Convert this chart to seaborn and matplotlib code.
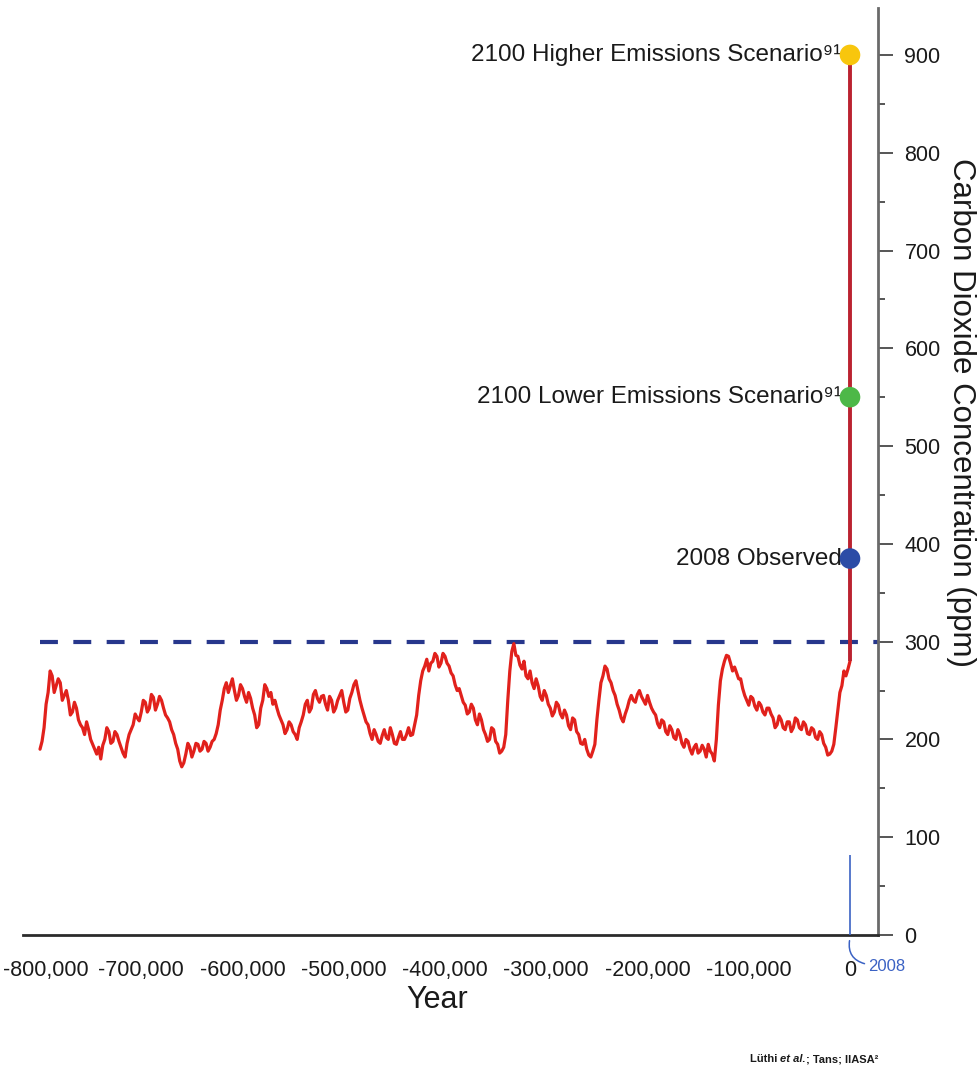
import numpy as np
import pandas as pd
import matplotlib
matplotlib.use("Agg")
import matplotlib.pyplot as plt
import matplotlib.transforms as mtransforms
import seaborn as sns
from matplotlib.ticker import MultipleLocator, FixedLocator, FuncFormatter

# Ice-core CO2 record, one reading every 2,000 years (ppm), 800 kyr ago -> today
years = np.arange(-800000, 1, 2000)
co2_ppm = [
    190, 198, 212, 236, 248, 270, 265, 248, 255, 262, 258, 240, 245, 250, 240, 225, 228, 238, 232, 220,
    215, 212, 205, 218, 210, 200, 195, 190, 185, 192, 180, 194, 200, 212, 208, 196, 198, 208, 205, 198,
    192, 186, 182, 196, 205, 210, 215, 226, 222, 219, 228, 240, 238, 228, 232, 246, 243, 230, 236, 244,
    240, 232, 225, 222, 218, 210, 205, 196, 190, 178, 172, 176, 185, 196, 192, 182, 188, 196, 195, 188,
    190, 198, 196, 188, 192, 198, 200, 206, 215, 230, 240, 252, 258, 248, 255, 262, 250, 240, 245, 256,
    252, 244, 238, 248, 242, 232, 225, 212, 215, 232, 240, 256, 252, 244, 248, 236, 240, 232, 225, 220,
    215, 206, 210, 218, 215, 208, 205, 200, 212, 218, 225, 236, 240, 228, 232, 246, 250, 242, 238, 244,
    245, 236, 230, 244, 240, 228, 232, 240, 245, 250, 238, 228, 230, 242, 248, 256, 260, 250, 240, 232,
    225, 218, 215, 206, 200, 210, 205, 198, 196, 204, 210, 202, 200, 212, 205, 196, 195, 202, 208, 200,
    200, 205, 212, 204, 205, 215, 225, 245, 260, 270, 275, 282, 270, 278, 280, 288, 285, 274, 278, 288,
    285, 278, 275, 268, 265, 256, 250, 252, 245, 238, 235, 226, 228, 236, 232, 220, 215, 226, 220, 210,
    205, 198, 200, 212, 210, 198, 195, 186, 188, 192, 205, 240, 270, 290, 298, 286, 285, 276, 272, 280,
    265, 262, 270, 258, 252, 262, 255, 244, 240, 250, 245, 236, 232, 224, 228, 238, 235, 226, 222, 230,
    225, 214, 210, 222, 220, 208, 205, 196, 195, 200, 190, 184, 182, 188, 195, 220, 240, 258, 265, 275,
    272, 262, 258, 250, 245, 236, 230, 222, 218, 226, 232, 240, 245, 240, 238, 246, 250, 244, 240, 236,
    245, 238, 232, 228, 225, 216, 212, 220, 218, 208, 205, 214, 210, 202, 200, 210, 205, 196, 192, 200,
    198, 190, 185, 192, 195, 186, 188, 194, 190, 182, 195, 188, 185, 178, 200, 235, 260, 272, 280, 286,
    285, 278, 270, 274, 268, 262, 262, 252, 245, 240, 235, 244, 242, 234, 230, 238, 235, 228, 225, 232,
    232, 226, 222, 212, 215, 224, 220, 212, 210, 218, 218, 208, 212, 222, 220, 212, 210, 218, 215, 206,
    205, 212, 210, 202, 200, 208, 205, 196, 192, 184, 185, 188, 195, 212, 230, 248, 255, 270, 265, 272,
    280,
]

# Observed and projected concentrations
marker_labels = ["2008 Observed",
                 "2100 Lower Emissions Scenario\u2079\u00b9",
                 "2100 Higher Emissions Scenario\u2079\u00b9"]
marker_ppm = [385, 550, 900]
marker_colors = ["#2c4ca6", "#4db848", "#f8c60d"]

preindustrial_max = 300
x_ticks = np.arange(-800000, 1, 100000)
y_ticks = np.arange(0, 901, 100)

sns.set_style("white")
FONT = ["Liberation Sans", "DejaVu Sans"]
plt.rcParams["font.family"] = FONT

W, H = 980, 1066
fig = plt.figure(figsize=(W / 100, H / 100), dpi=100)
fig.patch.set_facecolor("white")
ax = fig.add_axes([23 / W, 1 - 935 / H, (878 - 23) / W, (935 - 8) / H])
ax.set_facecolor("white")

xmin, xmax = -816800, 27650
ax.set_xlim(xmin, xmax)
ax.set_ylim(0, 948)

df = pd.DataFrame({"year": years, "co2": co2_ppm})
sns.lineplot(data=df, x="year", y="co2", color="#e1211c", lw=2.3,
             ax=ax, zorder=3)

# pre-industrial ceiling
ax.hlines(preindustrial_max, -800000, xmax, colors="#27378c",
          linestyles=(0, (4.3, 3.7)), lw=3.0, zorder=2)

# rise from today's level to the 2100 projections
ax.vlines(0, co2_ppm[-1], max(marker_ppm), color="#bb2330", lw=2.8,
          zorder=3)

dm = pd.DataFrame({"year": [0] * len(marker_ppm), "ppm": marker_ppm,
                   "label": marker_labels})
sns.scatterplot(data=dm, x="year", y="ppm", hue="label",
                palette=dict(zip(marker_labels, marker_colors)),
                s=220, linewidth=0, legend=False, ax=ax, zorder=5)

for lab, ppm in zip(marker_labels, marker_ppm):
    ax.text(-8500, ppm, lab, ha="right", va="center", fontsize=17.5,
            color="#1a1a1a")

# 2008 marker at the origin of the time axis
blue = "#3b62c4"
ax.vlines(0, 0, 82, color=blue, lw=1.2, zorder=4)
ax.text(17500, -32, "2008", color=blue, fontsize=12, ha="left",
        va="center", clip_on=False)
ax.annotate("", xy=(0, -3), xytext=(17000, -30),
            arrowprops=dict(arrowstyle="-", color=blue, lw=1.1,
                            connectionstyle="arc3,rad=-0.5"),
            annotation_clip=False)

# axes styling
for side in ("left", "top"):
    ax.spines[side].set_visible(False)
ax.spines["bottom"].set_color("#2b2b2b")
ax.spines["bottom"].set_linewidth(2.0)
ax.spines["right"].set_color("#6a6a6a")
ax.spines["right"].set_linewidth(2.0)

ax.yaxis.tick_right()
ax.xaxis.set_major_locator(FixedLocator(x_ticks))
ax.xaxis.set_minor_locator(FixedLocator(x_ticks[:-1] + 50000))
ax.yaxis.set_major_locator(FixedLocator(y_ticks))
ax.yaxis.set_minor_locator(MultipleLocator(50))
ax.xaxis.set_major_formatter(FuncFormatter(lambda v, p: f"{int(v):,}"))
ax.yaxis.set_major_formatter(FuncFormatter(lambda v, p: f"{int(v)}"))

ax.tick_params(axis="x", which="major", direction="in", length=17,
               width=1.4, color="#333333", pad=18, labelsize=15.5,
               labelcolor="#1a1a1a")
ax.tick_params(axis="x", which="minor", direction="in", length=8,
               width=1.4, color="#333333")
ax.tick_params(axis="y", which="major", direction="out", length=11,
               width=1.4, color="#555555", pad=8, labelsize=15.5,
               labelcolor="#1a1a1a", left=False, right=True)
ax.tick_params(axis="y", which="minor", direction="out", length=5,
               width=1.4, color="#555555", left=False, right=True)
ax.set_xlabel("")
ax.set_ylabel("")

# nudge the leftmost year label inward so it stays on the canvas
fig.canvas.draw()
first = ax.get_xticklabels()[0]
first.set_transform(first.get_transform() +
                    mtransforms.ScaledTranslation(6 / 100, 0,
                                                  fig.dpi_scale_trans))

fig.text(437 / W, 1 - 1000 / H, "Year", ha="center", va="center",
         fontsize=22, color="#1a1a1a")
fig.text(961 / W, 1 - 412 / H, "Carbon Dioxide Concentration (ppm)",
         rotation=270, ha="center", va="center", fontsize=22.5,
         color="#1a1a1a")

# source credit, with the "et al." set in italics
credit_kw = dict(fontsize=8, fontweight="bold", color="#1a1a1a",
                 va="bottom", ha="left")
t1 = fig.text(750 / W, 1 - 1064 / H, "Lüthi ", **credit_kw)
t2 = ax.annotate("et al.", xy=(1, 0), xycoords=t1, style="italic",
                 annotation_clip=False, **credit_kw)
ax.annotate("; Tans; IIASA²", xy=(1, 0), xycoords=t2,
            annotation_clip=False, **credit_kw)

fig.savefig("out.png", dpi=100, facecolor="white")
